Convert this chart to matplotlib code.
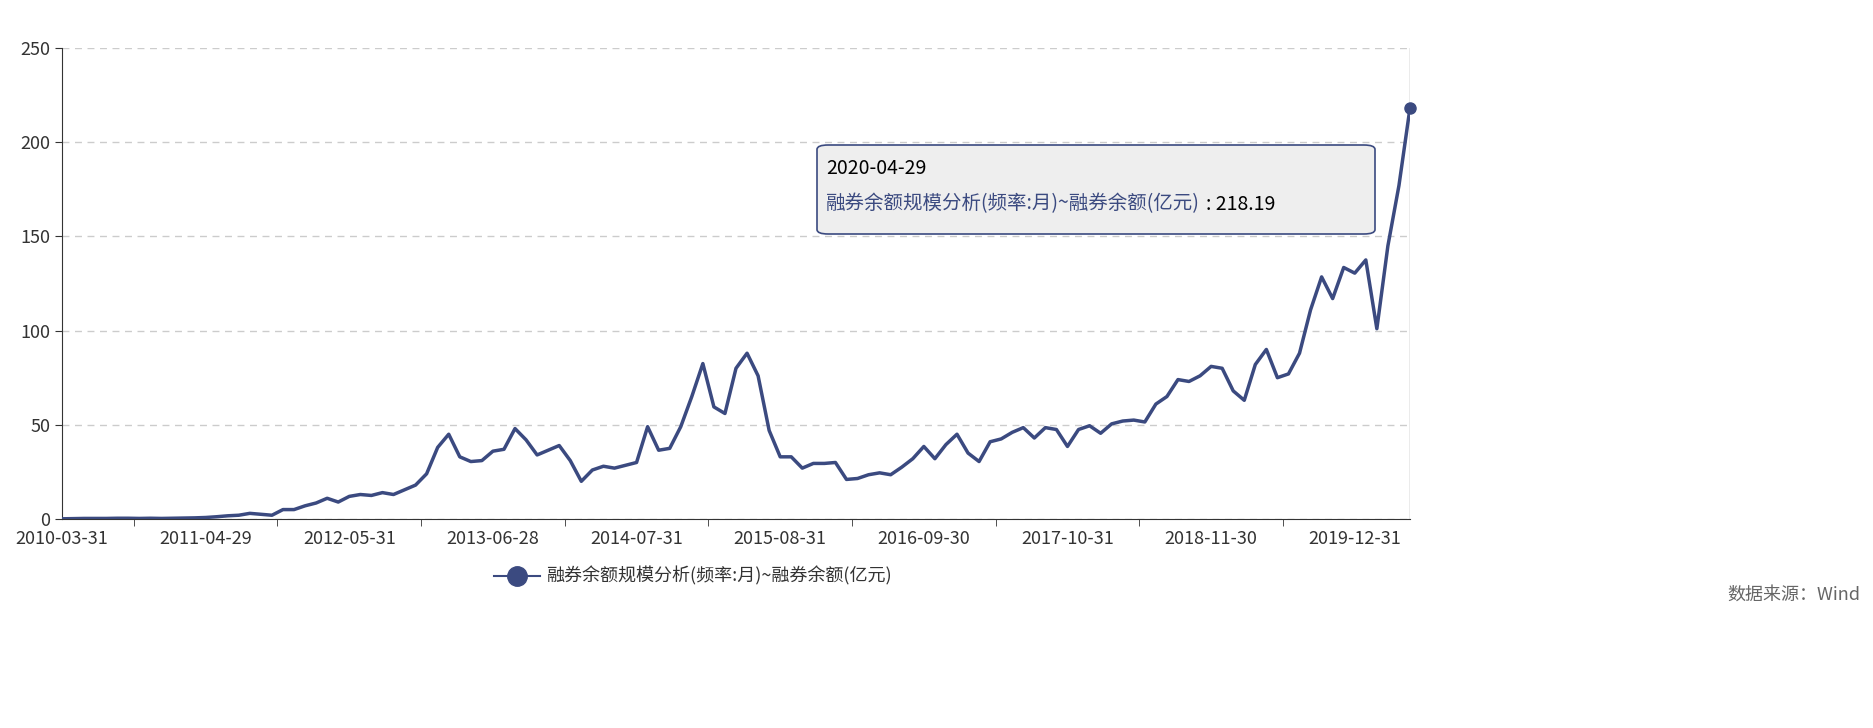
import matplotlib
matplotlib.use("Agg")
import matplotlib.pyplot as plt
from matplotlib.patches import FancyBboxPatch
from matplotlib.lines import Line2D

plt.rcParams['font.family'] = ['Noto Sans CJK SC', 'DejaVu Sans']

values = [0.1,0.2,0.3,0.3,0.3,0.4,0.4,0.3,0.4,0.3,0.4,0.5,0.6,0.8,1.2,
          1.7,2.0,3.0,2.5,2.0,5.0,5.0,7.0,8.5,11,9,12,13,12.5,14,13,15.5,
          18,24,38,45,33,30.5,31,36,37,48,42,34,36.5,39,31,20,26,28,27,
          28.5,30,49,36.5,37.5,49,65,82.5,59.5,56,80,88,76,47,33,33,27,
          29.5,29.5,30,21,21.5,23.5,24.5,23.5,27.5,32,38.5,32,39.5,45,35,
          30.5,41,42.5,46,48.5,43,48.5,47.5,38.5,47.5,49.5,45.5,50.5,52,
          52.5,51.5,61,65,74,73,76,81,80,68,63,82,90,75,77,88,111,128.5,
          117,133.5,130.5,137.5,101,145,177,218.19]
tick_labels = ["2010-03-31","2011-04-29","2012-05-31","2013-06-28","2014-07-31",
               "2015-08-31","2016-09-30","2017-10-31","2018-11-30","2019-12-31"]
series_name = "融券余额规模分析(频率:月)~融券余额(亿元)"
last_date = "2020-04-29"
last_value_label = "218.19"

color = "#3b4a80"
W, H = 1874, 728
fig = plt.figure(figsize=(W/100, H/100), dpi=100)
ax = fig.add_axes([62/W, 1-519/H, (1410-62)/W, (519-48)/H])
n = len(values)
x = list(range(n))
ax.plot(x, values, color=color, lw=2.5, zorder=3)
ax.plot([x[-1]], [values[-1]], 'o', color=color, ms=8, zorder=4, clip_on=False)
ax.set_yticks([0,50,100,150,200,250])
ax.yaxis.grid(True, ls=(0,(5,4)), color="#cccccc", lw=1)
ax.set_axisbelow(True)
ax.set_xticks([13*k for k in range(len(tick_labels))])
ax.set_xticklabels(tick_labels)
ax.set_xticks([6.5+13*k for k in range(10) if 6.5+13*k <= n-1], minor=True)
ax.set_xlim(0, n-1)
ax.set_ylim(0, 250)
ax.tick_params(axis='x', which='major', length=0, labelsize=13, colors="#333333", pad=8)
ax.tick_params(axis='x', which='minor', length=5, color="#333333")
ax.tick_params(axis='y', labelsize=13, colors="#333333", length=5)
for s in ['top','right']:
    ax.spines[s].set_visible(False)
ax.spines['left'].set_color("#333333")
ax.spines['bottom'].set_color("#333333")
ax.axvline(n-1, color="#999999", lw=1, zorder=2)

# tooltip
box = FancyBboxPatch((817/W, 1-234/H), (1375-817)/W, (234-145)/H,
                     boxstyle="round,pad=0,rounding_size=0.006", transform=fig.transFigure,
                     facecolor="#eeeeee", edgecolor=color, lw=1.2, zorder=10)
fig.patches.append(box)
fig.text(826/W, 1-168/H, last_date, fontsize=14, color="black", va='center', zorder=11)
t = fig.text(826/W, 1-204/H, series_name, fontsize=14, color=color, va='center', zorder=11)
fig.canvas.draw()
bb = t.get_window_extent()
fig.text((bb.x1 + 6)/W, 1-204/H, ": " + last_value_label, fontsize=14, color="black",
         va='center', zorder=11)

# legend
fig.lines.append(Line2D([494/W, 540/W], [1-576/H]*2, color=color, lw=1.5, transform=fig.transFigure))
fig.lines.append(Line2D([517/W], [1-576/H], marker='o', ms=14, color=color, transform=fig.transFigure))
fig.text(546/W, 1-576/H, series_name, fontsize=13, color="#333333", va='center')
fig.text(1860/W, 1-595/H, "数据来源：Wind", fontsize=13, color="#666666", va='center', ha='right')

fig.savefig("out.png", dpi=100)
